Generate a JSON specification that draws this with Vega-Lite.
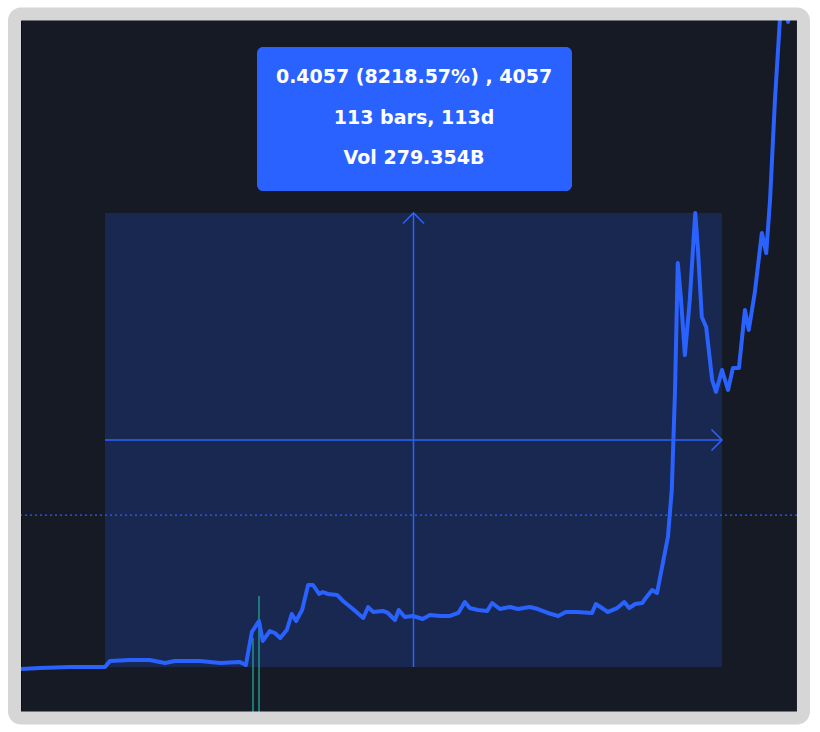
{
  "$schema": "https://vega.github.io/schema/vega-lite/v6.json",
  "width": 776,
  "height": 692,
  "autosize": {"type": "none"},
  "padding": {"left": 21, "top": 20, "right": 23, "bottom": 20},
  "background": "#ffffff",
  "config": {
    "view": {"fill": "#161a25", "stroke": "#0d1017", "strokeWidth": 1}
  },
  "datasets": {
    "price": [
      {"bar": -16.5, "price": 0.0031},
      {"bar": -15.4, "price": 0.0031},
      {"bar": -11.9, "price": 0.0040},
      {"bar": -6.4, "price": 0.0049},
      {"bar": -0.9, "price": 0.0049},
      {"bar": 0, "price": 0.0049},
      {"bar": 0.9, "price": 0.0103},
      {"bar": 4.6, "price": 0.0112},
      {"bar": 8.2, "price": 0.0112},
      {"bar": 11.0, "price": 0.0085},
      {"bar": 12.8, "price": 0.0103},
      {"bar": 17.4, "price": 0.0103},
      {"bar": 21.1, "price": 0.0085},
      {"bar": 24.7, "price": 0.0094},
      {"bar": 25.8, "price": 0.0067},
      {"bar": 26.9, "price": 0.0362},
      {"bar": 28.2, "price": 0.0460},
      {"bar": 28.9, "price": 0.0282},
      {"bar": 30.2, "price": 0.0371},
      {"bar": 31.1, "price": 0.0353},
      {"bar": 32.1, "price": 0.0308},
      {"bar": 33.3, "price": 0.0380},
      {"bar": 34.2, "price": 0.0523},
      {"bar": 35.0, "price": 0.0460},
      {"bar": 36.1, "price": 0.0559},
      {"bar": 37.2, "price": 0.0782},
      {"bar": 38.1, "price": 0.0782},
      {"bar": 39.2, "price": 0.0702},
      {"bar": 39.9, "price": 0.0719},
      {"bar": 40.8, "price": 0.0702},
      {"bar": 42.5, "price": 0.0693},
      {"bar": 43.6, "price": 0.0639},
      {"bar": 45.4, "price": 0.0567},
      {"bar": 47.3, "price": 0.0487},
      {"bar": 48.2, "price": 0.0585},
      {"bar": 49.1, "price": 0.0541},
      {"bar": 50.9, "price": 0.0550},
      {"bar": 51.8, "price": 0.0532},
      {"bar": 53.1, "price": 0.0469},
      {"bar": 53.8, "price": 0.0559},
      {"bar": 54.9, "price": 0.0496},
      {"bar": 56.4, "price": 0.0505},
      {"bar": 58.2, "price": 0.0478},
      {"bar": 59.5, "price": 0.0514},
      {"bar": 61.4, "price": 0.0505},
      {"bar": 63.2, "price": 0.0505},
      {"bar": 64.7, "price": 0.0532},
      {"bar": 65.9, "price": 0.0630},
      {"bar": 66.8, "price": 0.0576},
      {"bar": 68.3, "price": 0.0559},
      {"bar": 70.0, "price": 0.0550},
      {"bar": 70.9, "price": 0.0621},
      {"bar": 72.3, "price": 0.0567},
      {"bar": 74.2, "price": 0.0585},
      {"bar": 75.6, "price": 0.0567},
      {"bar": 77.8, "price": 0.0585},
      {"bar": 79.3, "price": 0.0567},
      {"bar": 81.1, "price": 0.0532},
      {"bar": 83.0, "price": 0.0505},
      {"bar": 84.4, "price": 0.0541},
      {"bar": 86.4, "price": 0.0541},
      {"bar": 89.2, "price": 0.0532},
      {"bar": 89.9, "price": 0.0612},
      {"bar": 92.1, "price": 0.0541},
      {"bar": 93.8, "price": 0.0576},
      {"bar": 95.1, "price": 0.0630},
      {"bar": 96.0, "price": 0.0576},
      {"bar": 97.1, "price": 0.0612},
      {"bar": 98.4, "price": 0.0621},
      {"bar": 98.9, "price": 0.0657},
      {"bar": 100.2, "price": 0.0737},
      {"bar": 101.1, "price": 0.0710},
      {"bar": 103.1, "price": 0.1211},
      {"bar": 103.8, "price": 0.1631},
      {"bar": 104.4, "price": 0.2525},
      {"bar": 104.9, "price": 0.3660},
      {"bar": 105.5, "price": 0.3329},
      {"bar": 106.2, "price": 0.2837},
      {"bar": 107.1, "price": 0.3329},
      {"bar": 108.1, "price": 0.4107},
      {"bar": 108.6, "price": 0.3776},
      {"bar": 109.3, "price": 0.3177},
      {"bar": 110.1, "price": 0.3088},
      {"bar": 111.2, "price": 0.2614},
      {"bar": 111.9, "price": 0.2507},
      {"bar": 113.0, "price": 0.2703},
      {"bar": 114.1, "price": 0.2525},
      {"bar": 115.0, "price": 0.2721},
      {"bar": 116.1, "price": 0.2721},
      {"bar": 117.2, "price": 0.3240},
      {"bar": 117.9, "price": 0.3061},
      {"bar": 119.0, "price": 0.3392},
      {"bar": 120.3, "price": 0.3928},
      {"bar": 121.1, "price": 0.3749},
      {"bar": 121.8, "price": 0.4223},
      {"bar": 122.7, "price": 0.5117},
      {"bar": 123.6, "price": 0.5831},
      {"bar": 124.2, "price": 0.6189},
      {"bar": 125.1, "price": 0.5813},
      {"bar": 125.8, "price": 0.6099}
    ],
    "measure": [
      {"bar": 0, "bar2": 113, "price": 0.004936, "price2": 0.4107, "midbar": 56.5, "midprice": 0.2078}
    ],
    "current": [{"price": 0.1407}],
    "volume": [
      {"bar": 27.1, "vol": 0.0308},
      {"bar": 28.2, "vol": 0.0684}
    ],
    "heads": [
      {"bar": 56.5, "price": 0.4107, "dir": "up"},
      {"bar": 113, "price": 0.2078, "dir": "right"}
    ],
    "label": [
      {"bar": 27.84, "bar2": 85.53, "price": 0.5590, "price2": 0.4303}
    ],
    "lines": [
      {"bar": 56.6, "price": 0.5322, "text": "0.4057 (8218.57%) , 4057"},
      {"bar": 56.6, "price": 0.4956, "text": "113 bars, 113d"},
      {"bar": 56.6, "price": 0.4598, "text": "Vol 279.354B"}
    ],
    "frame": [
      {"bar": -16.574, "bar2": 127.92, "price": 0.58847, "price2": -0.04066}
    ]
  },
  "layer": [
    {
      "data": {"name": "measure"},
      "mark": {"type": "rect", "fill": "#2962ff", "opacity": 0.2},
      "encoding": {
        "x": {"field": "bar", "type": "quantitative",
              "scale": {"domain": [-15.384, 126.736], "nice": false, "zero": false},
              "axis": {"values": [0, 31.3, 90.5], "grid": true, "gridColor": "#2b2f3b", "gridOpacity": 1, "gridWidth": 1,
                       "labels": false, "ticks": false, "domain": false, "title": null}},
        "x2": {"field": "bar2"},
        "y": {"field": "price", "type": "quantitative",
              "scale": {"domain": [-0.0353, 0.58311], "nice": false, "zero": false},
              "axis": {"values": [0, 0.1, 0.2, 0.3, 0.4, 0.5], "grid": true, "gridColor": "#2b2f3b", "gridOpacity": 1, "gridWidth": 1,
                       "labels": false, "ticks": false, "domain": false, "title": null}},
        "y2": {"field": "price2"}
      }
    },
    {
      "data": {"name": "current"},
      "mark": {"type": "rule", "color": "#2962ff", "strokeWidth": 1.3, "strokeDash": [2, 3]},
      "encoding": {
        "y": {"field": "price", "type": "quantitative",
              "scale": {"domain": [-0.0353, 0.58311], "nice": false, "zero": false}, "axis": null}
      }
    },
    {
      "data": {"name": "volume"},
      "mark": {"type": "rule", "color": "#1f8f84", "strokeWidth": 2, "opacity": 0.8},
      "encoding": {
        "x": {"field": "bar", "type": "quantitative",
              "scale": {"domain": [-15.384, 126.736], "nice": false, "zero": false}, "axis": null},
        "y": {"field": "vol", "type": "quantitative",
              "scale": {"domain": [-0.0353, 0.58311], "nice": false, "zero": false}, "axis": null},
        "y2": {"datum": -0.0353}
      }
    },
    {
      "data": {"name": "measure"},
      "mark": {"type": "rule", "color": "#2962ff", "strokeWidth": 1.5},
      "encoding": {
        "x": {"field": "midbar", "type": "quantitative",
              "scale": {"domain": [-15.384, 126.736], "nice": false, "zero": false}, "axis": null},
        "y": {"field": "price", "type": "quantitative",
              "scale": {"domain": [-0.0353, 0.58311], "nice": false, "zero": false}, "axis": null},
        "y2": {"field": "price2"}
      }
    },
    {
      "data": {"name": "measure"},
      "mark": {"type": "rule", "color": "#2962ff", "strokeWidth": 1.5},
      "encoding": {
        "x": {"field": "bar", "type": "quantitative",
              "scale": {"domain": [-15.384, 126.736], "nice": false, "zero": false}, "axis": null},
        "x2": {"field": "bar2"},
        "y": {"field": "midprice", "type": "quantitative",
              "scale": {"domain": [-0.0353, 0.58311], "nice": false, "zero": false}, "axis": null}
      }
    },
    {
      "data": {"name": "heads"},
      "transform": [{"filter": "datum.dir === 'up'"}],
      "mark": {"type": "point", "shape": "M-1,1L0,0L1,1", "filled": false, "stroke": "#2962ff", "strokeWidth": 1.5, "size": 441, "opacity": 1},
      "encoding": {
        "x": {"field": "bar", "type": "quantitative",
              "scale": {"domain": [-15.384, 126.736], "nice": false, "zero": false}, "axis": null},
        "y": {"field": "price", "type": "quantitative",
              "scale": {"domain": [-0.0353, 0.58311], "nice": false, "zero": false}, "axis": null}
      }
    },
    {
      "data": {"name": "heads"},
      "transform": [{"filter": "datum.dir === 'right'"}],
      "mark": {"type": "point", "shape": "M-1,-1L0,0L-1,1", "filled": false, "stroke": "#2962ff", "strokeWidth": 1.5, "size": 441, "opacity": 1},
      "encoding": {
        "x": {"field": "bar", "type": "quantitative",
              "scale": {"domain": [-15.384, 126.736], "nice": false, "zero": false}, "axis": null},
        "y": {"field": "price", "type": "quantitative",
              "scale": {"domain": [-0.0353, 0.58311], "nice": false, "zero": false}, "axis": null}
      }
    },
    {
      "data": {"name": "price"},
      "mark": {"type": "line", "color": "#2962ff", "strokeWidth": 4, "strokeJoin": "round", "strokeCap": "round", "clip": true},
      "encoding": {
        "x": {"field": "bar", "type": "quantitative",
              "scale": {"domain": [-15.384, 126.736], "nice": false, "zero": false}, "axis": null},
        "y": {"field": "price", "type": "quantitative",
              "scale": {"domain": [-0.0353, 0.58311], "nice": false, "zero": false}, "axis": null}
      }
    },
    {
      "data": {"name": "label"},
      "mark": {"type": "rect", "fill": "#2962ff", "cornerRadius": 6},
      "encoding": {
        "x": {"field": "bar", "type": "quantitative",
              "scale": {"domain": [-15.384, 126.736], "nice": false, "zero": false}, "axis": null},
        "x2": {"field": "bar2"},
        "y": {"field": "price", "type": "quantitative",
              "scale": {"domain": [-0.0353, 0.58311], "nice": false, "zero": false}, "axis": null},
        "y2": {"field": "price2"}
      }
    },
    {
      "data": {"name": "lines"},
      "mark": {"type": "text", "color": "#ffffff", "font": "DejaVu Sans", "fontWeight": "bold", "fontSize": 19, "align": "center", "baseline": "middle"},
      "encoding": {
        "x": {"field": "bar", "type": "quantitative",
              "scale": {"domain": [-15.384, 126.736], "nice": false, "zero": false}, "axis": null},
        "y": {"field": "price", "type": "quantitative",
              "scale": {"domain": [-0.0353, 0.58311], "nice": false, "zero": false}, "axis": null},
        "text": {"field": "text", "type": "nominal"}
      }
    },
    {
      "data": {"name": "frame"},
      "mark": {"type": "rect", "fill": null, "fillOpacity": 0, "stroke": "#d6d6d6", "strokeWidth": 13, "cornerRadius": 6.5, "clip": false},
      "encoding": {
        "x": {"field": "bar", "type": "quantitative",
              "scale": {"domain": [-15.384, 126.736], "nice": false, "zero": false}, "axis": null},
        "x2": {"field": "bar2"},
        "y": {"field": "price", "type": "quantitative",
              "scale": {"domain": [-0.0353, 0.58311], "nice": false, "zero": false}, "axis": null},
        "y2": {"field": "price2"}
      }
    }
  ]
}
